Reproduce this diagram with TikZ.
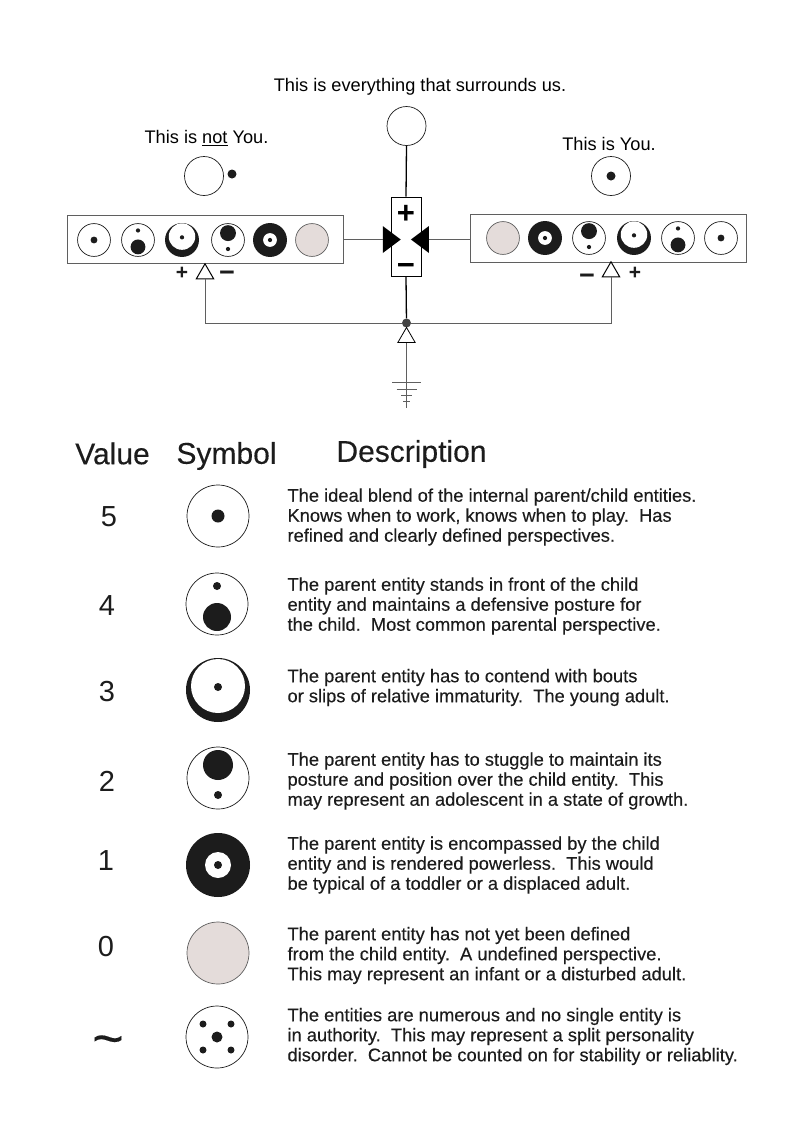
\documentclass[tikz,border=0pt]{standalone}
\usepackage{fontspec}
\setmainfont{Liberation Sans}
\newfontfamily\bodyfont[FakeBold=0.25]{Liberation Sans}
\usetikzlibrary{arrows.meta,positioning,calc,shapes.geometric}
\definecolor{inkBlack}{RGB}{28,28,28}
\definecolor{wireGray}{RGB}{95,95,95}
\definecolor{softPink}{RGB}{228,220,218}
\tikzset{
  ring/.style={draw=inkBlack, line width=0.7pt, fill=white},
  strip/.style={draw=wireGray, line width=0.8pt, fill=white, minimum width=276pt, minimum height=48pt, inner sep=0pt},
  wire/.style={draw=wireGray, line width=0.7pt},
  feed/.style={draw=black, line width=1.3pt},
  sensor/.style={regular polygon, regular polygon sides=3, draw=black, fill=white, line width=1pt, minimum size=20pt, inner sep=0pt},
  wedge/.style={isosceles triangle, isosceles triangle stretches, fill=black, minimum height=18pt, minimum width=27pt, inner sep=0pt},
  head/.style={font=\fontsize{30}{32}\bodyfont, text=inkBlack},
  note/.style={font=\fontsize{18.2}{20}\selectfont, text=black},
  num/.style={font=\fontsize{29}{30}\selectfont, text=inkBlack},
  desc/.style={anchor=west, align=left, font=\fontsize{18.3}{20}\bodyfont, text=inkBlack},
  sign/.style={font=\fontsize{21}{22}\bfseries, text=inkBlack, inner sep=0pt},
  bigsign/.style={font=\fontsize{27}{27}\bfseries, text=inkBlack, inner sep=0pt},
  gatesign/.style={font=\fontsize{31}{31}\bfseries, text=black, inner sep=0pt},
  symfive/.pic={\draw[ring] (0,0) circle (31); \fill[inkBlack] (0,0) circle (6.5);},
  symfour/.pic={\draw[ring] (0,0) circle (31); \fill[inkBlack] (0,-18) circle (4); \fill[inkBlack] (0,13) circle (14);},
  symthree/.pic={\fill[inkBlack] (0,0) circle (32); \fill[white] (0,-4) circle (27); \fill[inkBlack] (0,-3) circle (4);},
  symthreesmall/.pic={\fill[inkBlack] (0,0) circle (32); \fill[white] (0,-6.5) circle (25); \fill[inkBlack] (0,-5) circle (4);},
  symtwo/.pic={\draw[ring] (0,0) circle (31); \fill[inkBlack] (0,-13) circle (15); \fill[inkBlack] (0,17) circle (4);},
  symone/.pic={\fill[inkBlack] (0,0) circle (32); \fill[white] (0,0) circle (13); \fill[inkBlack] (0,0) circle (4);},
  symzero/.pic={\draw[draw=wireGray, line width=0.7pt, fill=softPink] (0,0) circle (31);},
  symsplit/.pic={\draw[ring] (0,0) circle (31); \fill[inkBlack] (0,0) circle (5.5);
    \foreach \dx/\dy in {-14/-13,14/-13,-14/13,14/13} \fill[inkBlack] (\dx,\dy) circle (3.5);}
}
\begin{document}
\begin{tikzpicture}[x=1pt, y=-1pt]
\useasboundingbox (0,0) rectangle (796,1136);
% top half
\node[note] (txtAll) at (420,87) {This is everything that surrounds us.};
\node[note] (txtNot) at (206.5,138) {This is \underline{not} You.};
\node[note] (txtYou) at (609,144) {This is You.};
\node[circle, ring, minimum size=39pt, inner sep=0pt] (surround) at (406.5,126) {};
\node[circle, ring, minimum size=39pt, inner sep=0pt] (notYou) at (204,176) {};
\node[circle, fill=inkBlack, minimum size=9pt, inner sep=0pt] (notDot) at (232,174) {};
\node[circle, ring, minimum size=39pt, inner sep=0pt] (you) at (611,176) {};
\node[circle, fill=inkBlack, minimum size=9pt, inner sep=0pt] (youDot) at (611,176) {};
\node[strip] (stripL) at (205,239.5) {};
\node[strip] (stripR) at (608.7,238) {};
\foreach \sym/\x in {symfive/94,symfour/138,symthreesmall/182,symtwo/228,symone/270,symzero/312}
  \pic[scale=0.53] at (\x,240) {\sym};
\foreach \sym/\x in {symzero/503,symone/545,symtwo/589,symthreesmall/634,symfour/678,symfive/721}
  \pic[scale=0.53] at (\x,238) {\sym};
\node[draw=black, line width=1pt, fill=white, minimum width=30pt, minimum height=79pt, inner sep=0pt] (gate) at (406,236.5) {};
\node[gatesign] (gatePlus) at (406,214) {+};
\node[gatesign] (gateMinus) at (406,269) {\textminus};
\node[wedge] (wedgeL) at (389.5,239.5) {};
\node[wedge, shape border rotate=180] (wedgeR) at (422.2,239.5) {};
\node[sensor] (sensorL) at (205,273.8) {};
\node[sensor] (sensorR) at (611,271.8) {};
\node[sign] (plusL) at (182,273.5) {+};
\node[bigsign] (minusL) at (227,276.5) {\textminus};
\node[bigsign] (minusR) at (587,279) {\textminus};
\node[sign] (plusR) at (635,273.5) {+};
\node[circle, fill=wireGray!70!black, minimum size=9pt, inner sep=0pt] (junction) at (406.5,323) {};
\node[sensor, line width=0.8pt] (sensorG) at (406.5,337.5) {};
\coordinate (earth) at (406.5,408);
\draw[feed] (surround.south) -- (gate.north);
\draw[feed] (gate.south) -- (junction);
\draw[wire] (stripL.east |- wedgeL.west) -- (wedgeL.west);
\draw[wire] (stripR.west |- wedgeR.east) -- (wedgeR.east);
\draw[wire] (sensorL.south) |- (junction);
\draw[wire] (sensorR.south) |- (junction);
\draw[wire, line width=0.5pt] (sensorG.south) -- (earth);
\foreach \y/\w in {382/14.5,389/10,395/5.5,401/3.5}
  \draw[wire] ($(earth)+(-\w,\y-408)$) -- ($(earth)+(\w,\y-408)$);
% legend
\node[head] (headValue) at (112.5,453.5) {Value};
\node[head] (headSymbol) at (226.5,456) {Symbol};
\node[head] (headDesc) at (411.5,454) {Description};
\foreach \sym/\val/\xa/\ya/\xb/\yb/\yc/\txt in {
  symfive/5/109/517/218/516/517/{The ideal blend of the internal parent/child entities.\\Knows when to work, knows when to play.\ \ Has\\refined and clearly defined perspectives.},
  symfour/4/107/606/217/604/606/{The parent entity stands in front of the child\\entity and maintains a defensive posture for\\the child.\ \ Most common parental perspective.},
  symthree/3/107/692/218/690/687.5/{The parent entity has to contend with bouts\\or slips of relative immaturity.\ \ The young adult.},
  symtwo/2/107/781/218/778/781/{The parent entity has to stuggle to maintain its\\posture and position over the child entity.\ \ This\\may represent an adolescent in a state of growth.},
  symone/1/106/861/218/865/865/{The parent entity is encompassed by the child\\entity and is rendered powerless.\ \ This would\\be typical of a toddler or a displaced adult.},
  symzero/0/106/947/218/953/955.5/{The parent entity has not yet been defined\\from the child entity.\ \ A undefined perspective.\\This may represent an infant or a disturbed adult.}}{
  \node[num] (val\val) at (\xa,\ya) {\val};
  \pic at (\xb,\yb) {\sym};
  \node[desc] (desc\val) at (284,\yc) {\txt};
}
\node[num, font=\fontsize{54}{54}\bodyfont] (valSplit) at (108,1046) {\textasciitilde};
\pic at (217,1037) {symsplit};
\node[desc] (descSplit) at (284,1036.5) {The entities are numerous and no single entity is\\in authority.\ \ This may represent a split personality\\disorder.\ \ Cannot be counted on for stability or reliablity.};
\end{tikzpicture}
\end{document}
